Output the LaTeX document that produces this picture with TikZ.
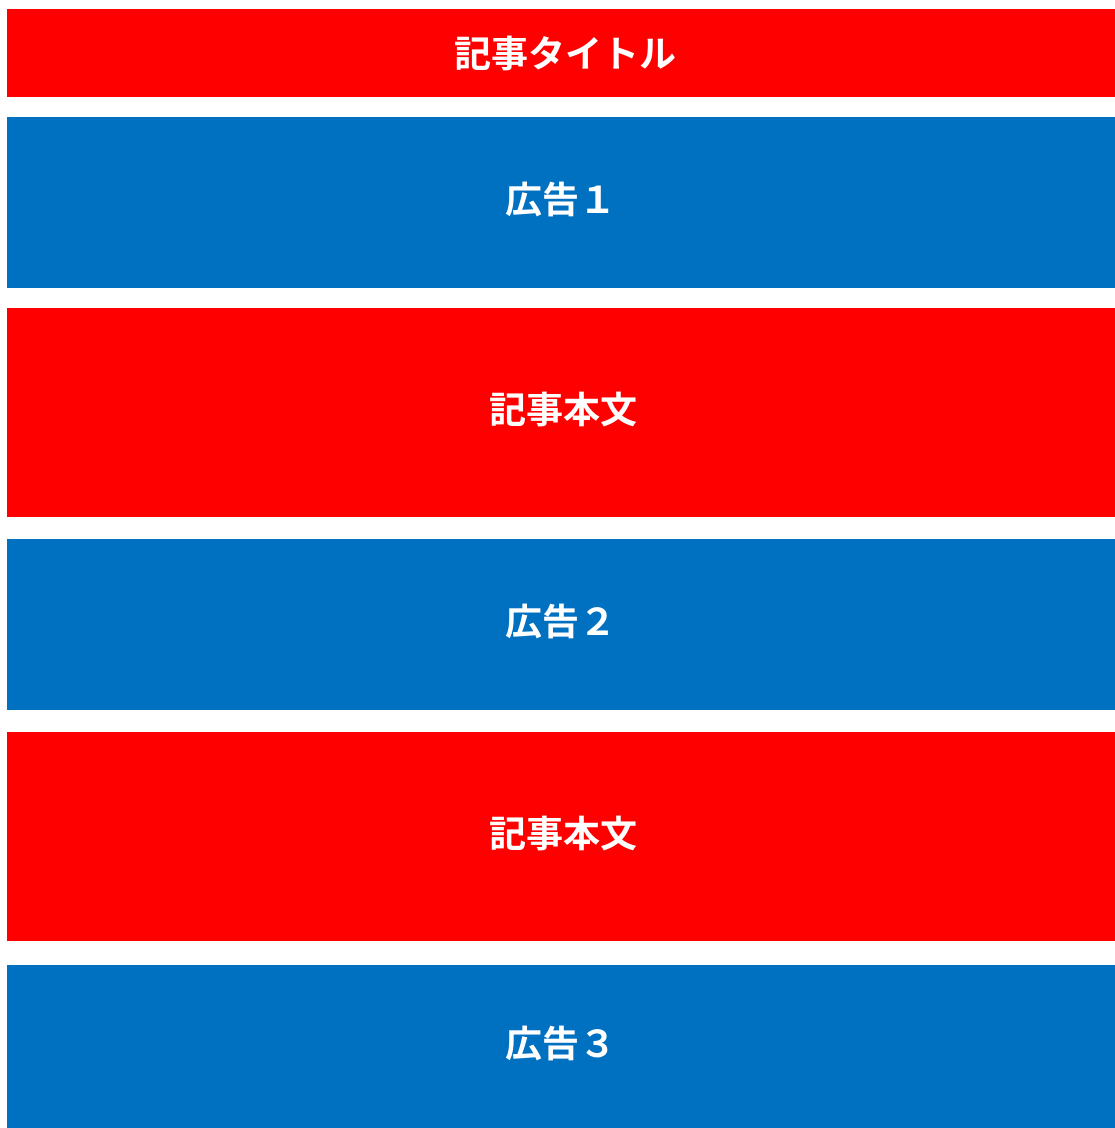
\documentclass[tikz,border=0pt]{standalone}
\usepackage{fontspec}
\newfontfamily\cjk{Noto Sans CJK JP}[BoldFont={* Bold}]
\definecolor{barred}{HTML}{FF0000}
\definecolor{barblue}{HTML}{0070C0}
\begin{document}
\begin{tikzpicture}[x=1pt,y=-1pt,
  bar/.style={inner sep=0pt,outer sep=0pt,minimum width=1108pt,text=white,font=\cjk\bfseries\fontsize{37}{40}\selectfont},
  redbar/.style={bar,fill=barred},
  bluebar/.style={bar,fill=barblue},
  lift/.style={text depth=10pt}]
\useasboundingbox (0,0) rectangle (1115,1128);
\node[redbar,minimum height=88pt,anchor=north west] (title) at (7,9) {\hspace{8pt}記事タイトル};
\node[bluebar,lift,minimum height=171pt,anchor=north west] (ad1) at (7,117) {広告１};
\node[redbar,lift,minimum height=209pt,anchor=north west] (body1) at (7,308) {\hspace{4pt}記事本文};
\node[bluebar,lift,minimum height=171pt,anchor=north west] (ad2) at (7,539) {広告２};
\node[redbar,lift,minimum height=209pt,anchor=north west] (body2) at (7,732) {\hspace{4pt}記事本文};
\node[bluebar,lift,minimum height=163pt,anchor=north west] (ad3) at (7,965) {広告３};
\end{tikzpicture}
\end{document}
